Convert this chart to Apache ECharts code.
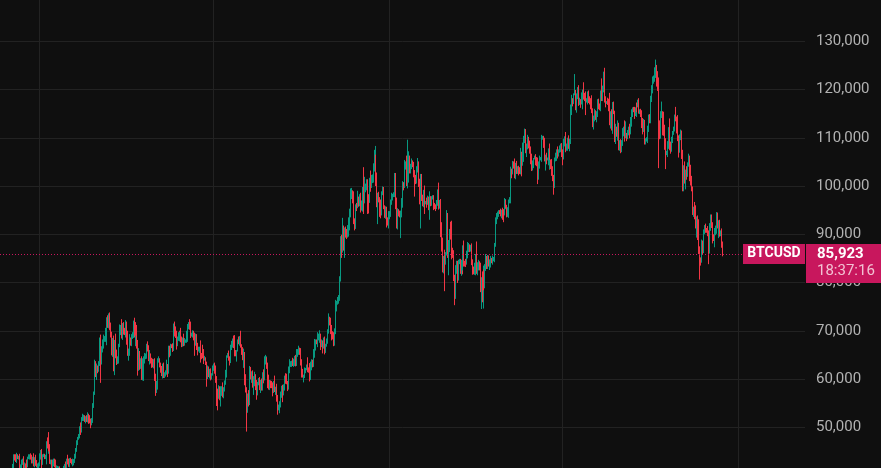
<!DOCTYPE html>
<html>
<head>
<meta charset="utf-8">
<script src="https://cdn.jsdelivr.net/npm/echarts@6/dist/echarts.min.js"></script>
<style>
html,body{margin:0;padding:0;background:#0f0f0f;}
#chart{width:881px;height:468px;}
</style>
</head>
<body>
<div id="chart"></div>
<script>
// ---- DATA (BTCUSD daily candles, values in thousands of USD) ----
const START_DATE = '2023-11-21';
const TOTAL_SLOTS = 842;          // date slots on the axis (candles + empty right margin)
const FIRST_OPEN = 37.5;          // open of first candle (k USD)
const SYMBOL = 'BTCUSD';
const CLOCK_TEXT = '18:37:16';

// daily closes (k USD), one line per month
const closes = [
  35.8,37.4,37.3,37.7,37.8,37.5,37.2,37.8,37.9,37.7,
  38.7,39.5,40.0,42.0,44.1,43.8,43.3,44.2,43.8,43.8, 41.2,41.5,43.0,43.0,41.9,42.3,41.4,42.7,42.3,43.7, 43.9,44.0,43.7,43.0,43.6,42.5,43.4,42.6,42.1,42.1, 42.3,
  44.2,45.0,42.8,44.2,44.2,43.9,43.9,46.9,46.1,46.6, 46.3,42.8,42.8,41.7,42.5,43.1,42.7,41.3,41.6,41.6, 41.6,39.5,39.8,40.1,39.9,41.8,42.1,42.0,43.3,42.9, 42.6,
  43.1,43.2,43.0,42.6,42.7,43.1,44.3,45.3,47.1,47.8, 48.3,50.0,49.7,51.8,52.0,52.1,51.6,52.1,51.7,52.3, 51.8,51.3,50.7,51.6,51.7,54.5,57.1,62.5,61.2,
  62.4,62.0,63.1,68.3,63.8,66.1,66.9,68.3,68.5,69.0, 72.1,71.5,73.1,71.4,69.4,65.3,68.4,67.6,62.0,67.9, 65.5,63.8,64.0,67.2,69.9,70.0,69.5,70.8,70.0,69.7, 71.3,
  69.7,65.5,66.0,68.5,67.8,68.9,69.4,71.6,69.1,70.6, 70.0,67.2,63.9,65.7,63.4,63.8,61.3,63.5,63.8,64.9, 64.9,66.8,66.4,64.3,64.5,63.8,63.4,63.1,63.8,60.6,
  58.3,59.1,62.9,63.9,64.0,63.2,62.3,61.2,63.1,60.8, 60.8,61.5,62.9,61.6,66.3,65.2,67.0,66.9,66.3,71.4, 70.1,69.1,67.9,68.5,69.3,68.5,69.4,68.3,67.6,68.4, 67.5,
  67.8,67.8,68.8,70.6,71.1,70.8,69.3,69.3,69.6,69.5, 67.3,68.2,66.8,66.0,66.2,66.6,66.5,65.2,64.9,64.8, 64.1,64.3,63.2,60.3,61.8,60.9,61.6,60.3,60.9,62.7,
  62.9,62.1,60.2,57.0,56.7,58.2,55.9,56.7,58.0,57.7, 57.3,57.9,59.2,60.8,64.8,65.1,64.1,63.9,66.7,67.2, 68.2,67.6,65.9,65.4,65.8,68.0,67.8,68.3,66.8,66.2, 64.6,
  65.4,61.5,60.7,58.1,54.0,56.0,55.0,61.7,60.9,60.9, 58.7,59.4,60.6,58.7,57.6,58.9,59.5,58.4,59.5,59.0, 61.2,60.4,64.1,64.2,64.2,62.8,59.4,59.0,59.4,59.1, 58.9,
  57.3,59.1,57.5,58.0,56.2,53.9,54.2,54.9,57.0,57.6, 57.3,58.1,60.5,60.0,59.2,58.2,60.3,61.8,62.9,63.2, 63.6,63.3,63.6,64.3,63.2,65.2,65.8,65.9,65.6,63.3,
  60.8,60.6,60.8,62.1,62.1,62.8,62.2,62.1,60.6,60.3, 62.4,63.2,62.8,66.0,67.0,67.6,67.4,68.4,68.4,69.0, 67.4,67.4,66.7,68.2,66.6,67.0,68.0,69.9,72.7,72.3, 70.2,
  69.5,69.3,68.7,67.8,69.4,75.6,75.9,76.5,76.7,80.4, 88.7,87.9,90.5,87.4,91.1,90.6,89.8,90.5,92.3,94.3, 98.3,98.9,97.7,98.0,93.0,91.9,95.9,95.6,97.5,96.4,
  97.2,95.9,96.0,98.8,97.0,99.9,99.9,101.2,97.4,96.7, 101.2,100.0,101.4,101.4,104.3,106.1,106.1,100.2,97.5,97.8, 97.2,95.1,94.7,98.7,99.4,95.8,94.3,95.0,93.1,92.6, 93.4,
  94.4,96.9,98.1,98.2,98.3,102.1,96.9,95.0,92.5,94.7, 94.6,94.5,94.5,96.5,100.5,99.9,104.1,104.4,101.1,102.0, 106.1,103.7,103.9,104.8,104.7,102.6,102.1,101.3,103.7,104.7, 102.4,
  100.6,97.7,101.4,97.9,96.6,96.6,96.5,96.6,96.5,97.4, 95.7,97.8,96.6,97.5,97.6,96.1,95.8,95.5,96.6,98.3, 96.1,96.6,96.3,91.5,88.7,84.3,84.7,84.4,
  86.0,94.3,86.1,87.2,90.6,89.9,86.8,86.2,80.7,78.5, 82.9,83.7,81.1,84.0,84.3,82.6,84.0,82.7,86.9,84.2, 84.1,83.8,86.1,87.5,87.5,86.9,87.2,84.4,82.6,82.4, 82.5,
  85.2,82.5,83.1,83.9,83.5,78.2,79.2,76.3,82.6,79.6, 83.4,85.3,83.7,84.5,83.7,84.0,84.9,84.5,85.1,85.2, 87.5,93.4,93.7,93.9,94.7,94.6,93.8,95.0,94.3,94.2,
  96.5,96.9,95.9,94.3,94.7,96.8,97.0,103.2,102.9,104.6, 104.1,102.8,104.2,103.5,103.7,103.5,103.2,106.5,105.6,106.8, 109.6,111.7,107.3,107.8,109.0,109.4,108.9,107.8,105.6,103.9, 104.6,
  105.7,105.8,105.4,104.7,101.6,104.4,105.6,105.7,110.3,110.3, 108.7,105.9,106.1,105.5,105.5,106.8,104.6,104.9,104.6,103.3, 102.1,100.9,105.6,106.0,107.3,106.9,107.1,107.3,108.4,107.1,
  105.7,108.8,109.6,108.0,108.2,109.2,108.2,108.9,111.3,115.9, 117.5,117.4,119.1,119.8,117.7,118.7,119.3,117.9,117.9,117.3, 117.4,119.9,118.7,118.3,117.6,117.9,119.4,118.0,117.9,117.8, 115.7,
  113.3,112.5,114.2,115.0,114.1,115.0,117.5,116.7,116.5,119.3, 118.7,120.1,123.3,118.3,117.4,117.5,117.4,116.3,112.9,114.3, 112.5,116.9,115.4,113.5,110.1,111.8,111.2,112.6,108.4,108.8, 108.2,
  109.2,111.2,111.7,110.7,110.7,110.2,111.1,112.0,111.5,113.9, 115.5,116.1,115.9,115.3,115.4,116.8,116.5,117.1,115.7,115.7, 115.2,112.7,112.0,113.3,109.0,109.6,109.7,112.1,114.4,114.0,
  118.6,120.6,122.3,122.4,123.5,124.8,121.4,123.3,121.7,113.2, 110.6,115.1,115.3,113.1,110.8,108.2,106.5,107.2,108.6,110.6, 108.5,107.6,110.1,111.0,111.6,114.5,114.1,112.9,110.1,108.3, 109.6,
  110.1,110.6,106.5,101.5,103.9,101.3,103.3,102.3,104.7,106.0, 103.0,101.6,99.7,94.6,95.6,94.2,92.2,92.9,91.5,86.6, 85.1,84.6,86.8,88.3,87.3,90.5,91.3,90.9,90.8,90.4,
  86.3,91.3,93.5,92.1,89.4,89.3,90.4,90.6,92.7,92.0, 92.5,90.3,90.3,88.2,85.923
];

// upper wick above the body, in hundreds of USD
const wickHigh = [
  4,4,5,11,2,3,2,5,7,3,
  2,3,3,4,3,3,6,5,2,3, 7,8,3,5,10,4,2,4,6,2, 5,4,6,6,3,10,4,9,6,4, 4,
  4,3,5,2,3,3,4,2,10,7, 24,2,5,5,8,4,4,6,5,4, 3,3,5,6,4,2,3,8,2,10, 6,
  5,5,4,4,8,3,2,4,2,2, 3,2,10,3,8,5,4,2,4,8, 5,7,5,3,4,5,3,15,12,
  8,4,6,3,9,7,13,9,4,16, 7,11,5,7,3,4,1,6,1,2, 15,6,7,1,14,12,24,8,10,6, 9,
  6,3,3,8,1,4,3,5,11,3, 12,12,9,7,1,5,9,8,9,5, 4,5,10,6,15,8,6,8,3,5,
  5,5,2,4,7,3,2,4,1,3, 6,3,11,2,6,6,3,2,5,1, 5,8,9,3,4,7,4,12,5,2, 10,
  7,4,12,8,7,13,11,3,5,4, 1,12,11,7,5,1,14,7,2,22, 14,5,2,4,10,8,5,6,3,1,
  3,5,7,4,10,5,3,18,5,6, 16,4,5,11,1,3,8,6,4,7, 2,8,15,1,2,2,8,6,17,4, 4,
  9,2,10,3,2,10,17,10,8,7, 9,12,9,4,11,5,7,9,3,6, 2,8,6,8,5,3,6,15,4,3, 5,
  4,5,16,4,10,5,5,5,4,10, 12,8,2,7,11,4,5,8,12,5, 2,8,6,5,7,10,4,10,6,8,
  8,13,1,3,2,2,17,2,12,8, 12,9,8,2,13,6,6,13,10,11, 4,8,6,4,6,3,4,4,9,2, 4,
  10,7,6,10,11,8,3,5,7,9, 9,12,29,13,3,5,5,14,12,10, 12,7,2,4,9,3,3,6,15,3,
  11,14,10,10,51,20,6,2,2,9, 5,20,9,10,4,14,22,4,26,8, 10,5,21,2,5,4,2,8,7,4, 14,
  4,3,5,2,4,6,6,7,12,7, 5,3,4,10,5,3,13,7,19,76, 11,2,7,9,5,3,7,2,4,11, 4,
  4,9,11,11,3,26,35,3,10,6, 4,11,1,4,5,5,4,4,5,10, 24,5,7,5,10,6,8,21,
  3,7,1,16,5,20,29,4,5,9, 7,8,8,7,6,6,7,4,8,18, 3,8,5,9,7,4,6,9,4,7, 16,
  7,33,11,8,5,6,19,31,9,1, 4,6,2,12,11,8,6,2,5,1, 7,1,7,8,3,3,7,1,5,9,
  10,4,2,2,9,4,7,8,4,6, 5,16,6,10,4,5,4,14,6,22, 8,2,1,10,3,12,8,5,4,11, 7,
  1,5,8,6,12,7,7,3,3,1, 1,13,4,8,4,10,20,5,6,10, 8,2,3,9,3,9,5,11,4,5,
  5,10,7,16,6,8,13,9,6,10, 14,7,1,34,1,5,12,16,4,1, 20,1,16,6,13,3,2,4,6,3, 10,
  4,14,4,10,7,5,5,6,4,5, 30,7,4,12,3,1,8,7,30,12, 16,5,6,2,2,11,5,10,5,7, 9,
  3,8,6,19,27,3,5,3,9,4, 4,2,3,5,9,2,5,8,11,2, 3,5,14,6,4,3,4,4,4,5,
  1,3,4,5,11,14,3,3,5,8, 4,4,22,2,23,19,17,1,7,16, 34,7,1,4,7,3,19,3,18,4, 11,
  1,11,9,10,4,12,1,8,2,7, 3,14,5,2,1,11,18,8,10,16, 9,1,7,6,4,5,6,9,4,9,
  4,10,6,6,4,6,9,12,19,18, 4,5,5,9,3
];

// lower wick below the body, in hundreds of USD
const wickLow = [
  1,5,4,3,3,2,5,6,3,6,
  6,5,4,6,8,7,5,7,4,5, 10,9,6,8,6,4,5,6,9,6, 3,6,4,5,5,6,8,6,4,7, 6,
  4,9,20,6,4,5,5,16,5,16, 13,4,5,5,5,6,10,4,6,5, 4,4,11,3,6,3,5,5,7,6, 8,
  9,4,4,3,7,6,5,8,4,8, 4,6,13,8,5,7,5,8,6,7, 11,5,9,3,4,8,5,4,8,
  14,8,5,4,46,8,6,6,6,8, 20,9,10,13,8,4,7,10,4,12, 12,9,7,8,6,8,11,14,8,6, 11,
  26,7,17,12,9,10,6,9,5,23, 10,9,32,22,15,13,15,16,39,6, 8,7,7,6,13,6,11,7,9,10,
  18,12,13,3,5,8,10,6,11,6, 6,3,6,12,5,7,4,5,7,5, 13,6,18,11,6,3,7,7,10,9, 7,
  6,3,3,11,3,6,8,5,7,15, 25,4,8,11,3,8,6,18,8,5, 10,3,3,19,3,5,8,6,4,2,
  10,10,10,26,32,8,3,16,2,12, 11,13,5,4,5,4,3,11,6,7, 7,12,12,7,18,1,6,9,3,12, 7,
  23,9,20,9,49,10,7,4,10,17, 5,20,9,10,19,10,2,7,13,14, 14,13,7,11,10,7,13,12,13,10, 8,
  9,2,2,8,9,13,4,13,8,9, 21,7,5,10,3,7,4,11,6,4, 7,6,8,9,6,5,6,8,6,5,
  5,3,13,6,9,3,8,8,4,8, 5,6,4,3,16,11,2,8,4,9, 14,8,14,4,15,12,3,7,5,12, 9,
  8,13,5,10,9,1,16,5,9,5, 2,28,17,8,23,13,8,5,10,15, 8,10,13,20,9,11,8,8,2,7,
  6,14,10,13,28,6,12,8,32,24, 2,12,4,8,7,13,8,2,19,54, 6,15,14,8,6,6,9,11,17,8, 14,
  3,8,8,11,5,6,17,16,13,15, 9,10,53,10,10,8,3,7,11,16, 13,11,11,4,8,8,43,9,8,9, 13,
  8,15,65,10,8,10,23,3,10,4, 7,27,8,7,3,11,6,7,3,7, 10,8,5,21,23,22,24,62,
  7,4,10,46,9,10,20,11,4,32, 19,11,12,7,2,8,12,10,2,9, 8,6,1,11,12,6,5,8,10,7, 8,
  10,7,10,6,10,2,37,4,17,12, 8,10,9,9,4,11,9,5,8,7, 10,1,13,6,3,4,1,5,13,17,
  3,13,5,8,7,13,4,6,13,5, 5,12,14,10,10,13,7,8,36,14, 18,7,5,13,2,8,11,11,11,8, 7,
  9,2,11,6,12,3,8,3,7,7, 8,8,27,10,2,12,12,11,11,12, 11,27,13,5,8,12,8,2,3,11,
  14,2,6,10,7,9,5,10,2,3, 12,9,4,3,20,25,7,13,11,11, 4,15,8,7,29,3,10,8,10,19, 6,
  11,1,8,8,4,9,7,8,8,10, 11,11,7,10,11,4,6,8,3,10, 10,17,5,11,10,14,10,18,10,11, 14,
  12,9,9,15,8,9,5,6,16,8, 16,12,6,14,8,11,12,2,7,8, 9,7,13,8,4,4,4,8,9,10,
  10,12,14,11,8,11,8,13,20,95, 9,8,10,26,4,7,30,1,12,9, 11,9,5,12,4,3,7,20,8,24, 14,
  6,6,9,26,26,8,20,10,4,7, 20,15,8,6,10,11,10,29,27,7, 45,11,5,8,15,12,5,6,5,8,
  25,3,6,8,13,7,20,6,5,8, 28,8,7,10,5
];

// y axis ticks
const Y_MIN = 40000, Y_MAX = 140000, Y_STEP = 10000;

// ---- BUILD ----
const categories = [];
const t0 = Date.parse(START_DATE + 'T00:00:00Z');
for (let i = 0; i < TOTAL_SLOTS; i++) {
  categories.push(new Date(t0 + i * 86400000).toISOString().slice(0, 10));
}
const halfYears = categories.filter(d => d.endsWith('-01-01') || d.endsWith('-07-01'));
const ohlc = closes.map((c, i) => {
  const o = i === 0 ? FIRST_OPEN : closes[i - 1];
  const hi = Math.max(o, c) + (wickHigh[i] || 0) / 10;
  const lo = Math.min(o, c) - (wickLow[i] || 0) / 10;
  return [o, c, lo, hi].map(v => Math.round(v * 1000));
});
const lastPrice = Math.round(closes[closes.length - 1] * 1000);

const UP = '#089981', DOWN = '#f23645', ACCENT = '#c8175d', GRID = '#222222';

const chart = echarts.init(document.getElementById('chart'), null, {renderer: 'canvas'});
chart.setOption({
  backgroundColor: '#0f0f0f',
  animation: false,
  grid: {left: 0, right: 76, top: -7, bottom: -7.5, containLabel: false, outerBoundsMode: 'none'},
  xAxis: {
    type: 'category', data: categories, boundaryGap: true,
    axisLine: {show: false}, axisTick: {show: false}, axisLabel: {show: false},
    splitLine: {show: false}
  },
  yAxis: {
    type: 'value', position: 'right', min: Y_MIN, max: Y_MAX, interval: Y_STEP,
    axisLine: {show: false}, axisTick: {show: false},
    splitLine: {show: true, lineStyle: {color: GRID, width: 1}},
    axisLabel: {
      color: '#b2b2b2', fontFamily: 'Roboto', fontSize: 15, margin: 11,
      showMinLabel: false, showMaxLabel: false,
      formatter: v => v.toLocaleString('en-US')
    }
  },
  series: [
    {
      // vertical half-year grid lines, drawn behind the candles
      type: 'line', data: [], z: 0, silent: true,
      markLine: {
        silent: true, symbol: ['none', 'none'], z: 0,
        label: {show: false},
        lineStyle: {color: GRID, type: 'solid', width: 1},
        data: halfYears.map(d => ({xAxis: d}))
      }
    },
    {
      type: 'candlestick',
      data: ohlc,
      large: false,
      z: 2,
      itemStyle: {color: UP, color0: DOWN, borderColor: UP, borderColor0: DOWN, borderWidth: 1}
    }
  ]
});

const py = chart.convertToPixel({yAxisIndex: 0}, lastPrice);
const pyCrisp = Math.round(py) + 0.5;
chart.setOption({
  graphic: [
    {type: 'line', shape: {x1: 0, y1: pyCrisp, x2: 805, y2: pyCrisp}, style: {stroke: ACCENT, lineWidth: 1, lineDash: [1, 2]}, z: 99, silent: true},
    {type: 'rect', shape: {x: 743, y: py - 10, width: 62, height: 20}, style: {fill: ACCENT}, z: 100},
    {type: 'text', x: 774, y: py, style: {text: SYMBOL, fill: '#ffffff', font: 'bold 14px Roboto', align: 'center', verticalAlign: 'middle'}, z: 101},
    {type: 'rect', shape: {x: 806, y: py - 10, width: 75, height: 39}, style: {fill: ACCENT}, z: 100},
    {type: 'text', x: 817, y: py, style: {text: lastPrice.toLocaleString('en-US'), fill: '#ffffff', font: 'bold 15px Roboto', align: 'left', verticalAlign: 'middle'}, z: 101},
    {type: 'text', x: 817, y: py + 17, style: {text: CLOCK_TEXT, fill: '#f2c2d3', font: '15px Roboto', align: 'left', verticalAlign: 'middle'}, z: 101}
  ]
});
</script>
</body>
</html>
